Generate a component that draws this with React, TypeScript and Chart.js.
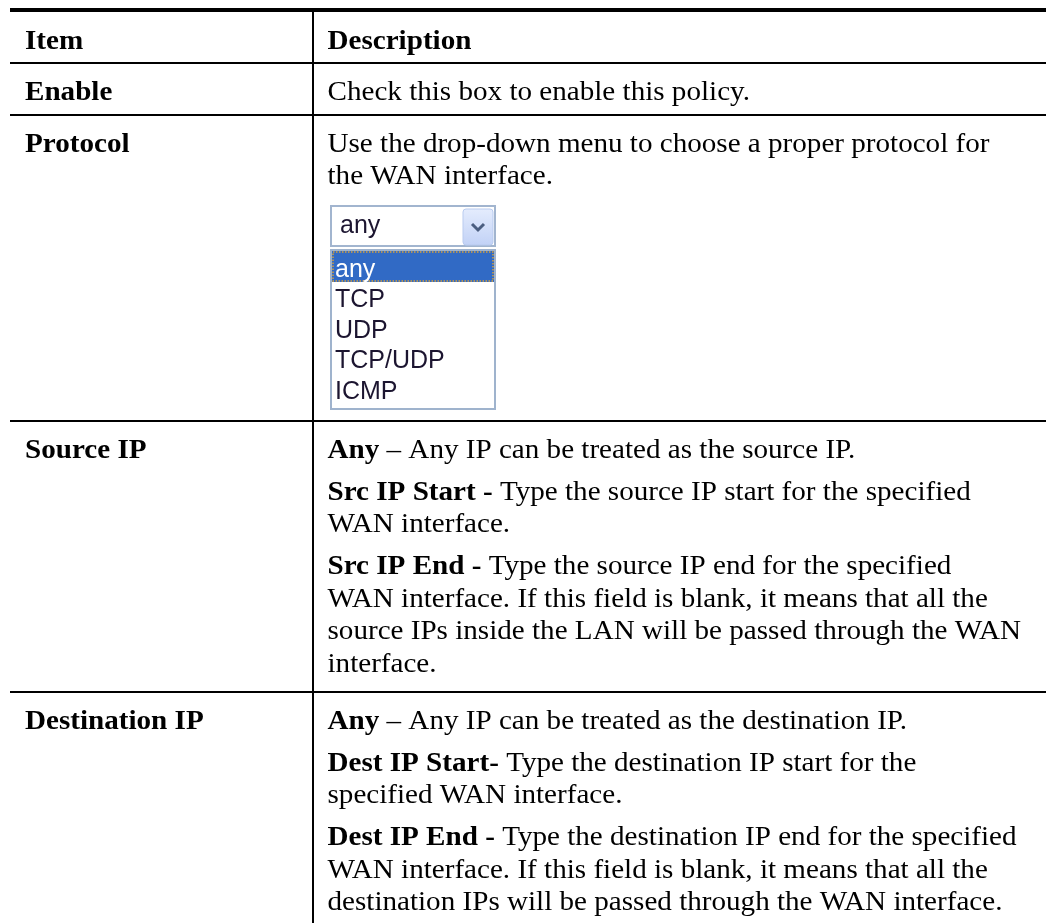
import React, { useEffect, useRef } from "react";
import { Chart, registerables } from "chart.js";

Chart.register(...registerables);

// ---- content ----
const columnHeaders = ["Item", "Description"];
const items = ["Enable", "Protocol", "Source IP", "Destination IP"];

const enableDescription = [["Check this box to enable this policy."]];
const protocolDescription = [
  ["Use the drop-down menu to choose a proper protocol for", "the WAN interface."],
];
const sourceIpDescription = [
  ["**Any** – Any IP can be treated as the source IP."],
  ["**Src IP Start -** Type the source IP start for the specified", "WAN interface."],
  [
    "**Src IP End -** Type the source IP end for the specified",
    "WAN interface. If this field is blank, it means that all the",
    "source IPs inside the LAN will be passed through the WAN",
    "interface.",
  ],
];
const destinationIpDescription = [
  ["**Any** – Any IP can be treated as the destination IP."],
  ["**Dest IP Start-** Type the destination IP start for the", "specified WAN interface."],
  [
    "**Dest IP End -** Type the destination IP end for the specified",
    "WAN interface. If this field is blank, it means that all the",
    "destination IPs will be passed through the WAN interface.",
  ],
];
const descriptions = [enableDescription, protocolDescription, sourceIpDescription, destinationIpDescription];

const protocolOptions = ["any", "TCP", "UDP", "TCP/UDP", "ICMP"];
const selectedProtocol = "any";

// ---- layout ----
const W = 1046;
const H = 923;
const TABLE_LEFT = 10;
const COL_X = 312;
const LEFT_TEXT_X = 25;
const RIGHT_TEXT_X = 327.5;
const FONT_SIZE = 27;
const SX = 1.078;
const SERIF = "'Liberation Serif', 'Times New Roman', serif";
const SANS = "'Liberation Sans', Arial, sans-serif";
const FIRST_BASELINE = 35.5;
const LINE_H = 32.5;
const PARA_H = 42;
const ROW_BOTTOM_PAD = [14.5, 10, 19, 19];

function drawRich(ctx: CanvasRenderingContext2D, text: string, x: number, y: number, forceBold = false) {
  const parts = text.split("**");
  ctx.save();
  ctx.translate(x, y);
  ctx.scale(SX, 1);
  let cx = 0;
  parts.forEach((p, i) => {
    if (!p) return;
    const bold = forceBold || i % 2 === 1;
    ctx.font = `${bold ? "bold " : ""}${FONT_SIZE}px ${SERIF}`;
    ctx.fillText(p, cx, 0);
    cx += ctx.measureText(p).width;
  });
  ctx.restore();
}

function drawDropdown(ctx: CanvasRenderingContext2D, top: number): number {
  const left = 330;
  const right = 496;
  const w = right - left;
  // closed select
  ctx.fillStyle = "#ffffff";
  ctx.fillRect(left, top, w, 42);
  ctx.strokeStyle = "#a2b5cf";
  ctx.lineWidth = 2;
  ctx.strokeRect(left + 1, top + 1, w - 2, 40);
  ctx.font = `25px ${SANS}`;
  ctx.fillStyle = "#1c1530";
  ctx.textBaseline = "alphabetic";
  ctx.fillText(selectedProtocol, left + 10, top + 28);
  // arrow button
  const bx = 463, by = top + 4, bw = 30, bh = 36;
  const g = ctx.createLinearGradient(0, by, 0, by + bh);
  g.addColorStop(0, "#e4ecfd");
  g.addColorStop(1, "#c2d2f6");
  ctx.fillStyle = g;
  ctx.beginPath();
  ctx.roundRect(bx, by, bw, bh, 3);
  ctx.fill();
  ctx.strokeStyle = "#b9cbef";
  ctx.lineWidth = 1;
  ctx.stroke();
  ctx.strokeStyle = "#4b5e80";
  ctx.lineWidth = 3;
  ctx.beginPath();
  ctx.moveTo(bx + 9, by + 15);
  ctx.lineTo(bx + 15, by + 21);
  ctx.lineTo(bx + 21, by + 15);
  ctx.stroke();

  // list
  const lt = top + 44;
  const itemH = 30.6;
  const lh = 4 + protocolOptions.length * itemH + 4;
  ctx.fillStyle = "#ffffff";
  ctx.fillRect(left, lt, w, lh);
  ctx.strokeStyle = "#9fb3cd";
  ctx.lineWidth = 2;
  ctx.strokeRect(left + 1, lt + 1, w - 2, lh - 2);
  protocolOptions.forEach((opt, i) => {
    const iy = lt + 2 + i * itemH;
    if (opt === selectedProtocol) {
      ctx.fillStyle = "#316ac5";
      ctx.fillRect(left + 2, iy, w - 4, 31);
      ctx.save();
      ctx.strokeStyle = "#d9a13a";
      ctx.lineWidth = 1.5;
      ctx.setLineDash([1.5, 1.5]);
      ctx.strokeRect(left + 3, iy + 1, w - 6, 29);
      ctx.restore();
      ctx.fillStyle = "#ffffff";
    } else {
      ctx.fillStyle = "#1c1530";
    }
    ctx.font = `25px ${SANS}`;
    ctx.fillText(opt, left + 5, lt + 27.5 + i * itemH);
  });
  return lt + lh;
}

const tablePlugin = {
  id: "itemDescriptionTable",
  afterDraw(chart: any) {
    const ctx: CanvasRenderingContext2D = chart.ctx;
    ctx.save();
    ctx.fillStyle = "#ffffff";
    ctx.fillRect(0, 0, W, H);
    ctx.fillStyle = "#000000";
    ctx.textBaseline = "alphabetic";

    // top rule
    ctx.fillRect(TABLE_LEFT, 8, W - TABLE_LEFT, 4);
    // header
    drawRich(ctx, columnHeaders[0], LEFT_TEXT_X, 12 + 36.7, true);
    drawRich(ctx, columnHeaders[1], RIGHT_TEXT_X, 12 + 36.7, true);
    let lineY = 62;
    const hLines: number[] = [lineY];

    items.forEach((item, r) => {
      const top = lineY + 2;
      let base = top + FIRST_BASELINE;
      ctx.fillStyle = "#000000";
      drawRich(ctx, item, LEFT_TEXT_X, base, true);
      const paras = descriptions[r];
      paras.forEach((para, p) => {
        if (p > 0) base += PARA_H;
        para.forEach((line, l) => {
          if (l > 0) base += LINE_H;
          ctx.fillStyle = "#000000";
          drawRich(ctx, line, RIGHT_TEXT_X, base);
        });
      });
      let bottom = base + ROW_BOTTOM_PAD[r];
      if (items[r] === "Protocol") {
        const ddBottom = drawDropdown(ctx, base + 21);
        bottom = ddBottom + ROW_BOTTOM_PAD[r];
      }
      lineY = Math.round(bottom);
      if (r < items.length - 1) hLines.push(lineY);
    });

    ctx.fillStyle = "#000000";
    hLines.forEach((y) => ctx.fillRect(TABLE_LEFT, y, W - TABLE_LEFT, 2));
    ctx.fillRect(COL_X, 12, 2, H - 12);
    ctx.restore();
  },
};

export default function App() {
  const ref = useRef<HTMLCanvasElement | null>(null);
  useEffect(() => {
    if (!ref.current) return;
    const chart = new Chart(ref.current, {
      type: "scatter",
      data: { datasets: [] },
      options: {
        responsive: false,
        animation: false,
        events: [],
        plugins: { legend: { display: false }, tooltip: { enabled: false }, title: { display: false } },
        scales: { x: { display: false }, y: { display: false } },
      },
      plugins: [tablePlugin],
    });
    return () => chart.destroy();
  }, []);
  return (
    <div style={{ position: "absolute", left: 0, top: 0, width: W, height: H, background: "#fff" }}>
      <canvas ref={ref} width={W} height={H} style={{ display: "block" }} />
    </div>
  );
}
